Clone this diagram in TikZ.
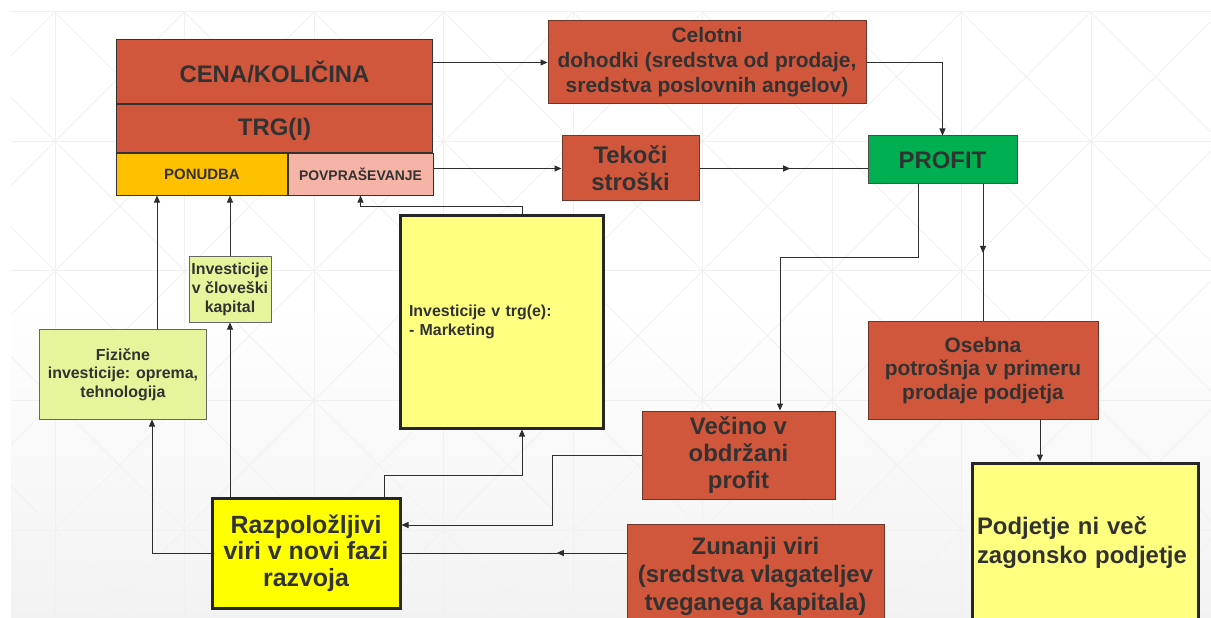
\documentclass[tikz,border=0pt]{standalone}
\usepackage{fontspec}
\setmainfont{Liberation Sans}
\usepackage{tikz}
\usetikzlibrary{arrows.meta,positioning,calc,decorations.markings}
\definecolor{rdfill}{RGB}{208,87,60}
\definecolor{rdline}{RGB}{112,52,40}
\definecolor{txtgray}{RGB}{50,50,50}
\definecolor{lnfarba}{RGB}{45,45,45}
\definecolor{profgreen}{RGB}{0,176,80}
\definecolor{ponorange}{RGB}{255,192,0}
\definecolor{povpink}{RGB}{245,180,165}
\definecolor{ylgreen}{RGB}{230,245,155}
\definecolor{ylpale}{RGB}{255,255,128}
\definecolor{ylstrong}{RGB}{255,255,0}
\tikzset{
  redbox/.style={
    rectangle, draw=rdline, fill=rdfill, line width=1bp, text=txtgray,
    align=center, inner sep=2bp,
    font=\bfseries\fontsize{24}{27}\selectfont
  },
  headbox/.style={
    rectangle, draw=txtgray, fill=rdfill, line width=1bp, text=txtgray,
    align=center, inner sep=2bp, minimum width=315bp,
    font=\bfseries\fontsize{24}{27}\selectfont
  },
  marketbox/.style={
    rectangle, draw=txtgray, line width=1bp, text=txtgray,
    align=center, inner sep=2bp, minimum height=41bp
  },
  invbox/.style={
    rectangle, draw=black!60, fill=ylgreen, line width=1bp, text=txtgray,
    align=center, inner sep=2bp,
    font=\bfseries\fontsize{16}{18.7}\selectfont
  },
  bigyellow/.style={
    rectangle, draw=black!85, fill=ylpale, line width=3bp, text=txtgray,
    align=left, inner ysep=2bp
  },
  flowline/.style={->, >={Triangle[length=7bp,width=6bp]}, line width=1bp, lnfarba},
  flowplain/.style={line width=1bp, lnfarba},
  midarrow/.style={postaction={decorate}, decoration={markings,
    mark=at position #1 with {\arrow{Triangle[length=7bp,width=6bp]}}}},
  midarrow/.default=0.5,
  gridline/.style={black!6, line width=1bp},
  diagline/.style={black!5, line width=0.8bp}
}

\begin{document}
\begin{tikzpicture}[x=1bp, y=-1bp]
  \useasboundingbox (0,0) rectangle (1211,618);
  \fill[white] (0,0) rectangle (1211,618);
  \shade[top color=white, bottom color=black!5] (11,300) rectangle (1211,618);
  \begin{scope}
    \clip (11,12) rectangle (1211,618);
    \foreach \gx in {55,184.5,...,1211} \draw[gridline] (\gx,12) -- (\gx,618);
    \foreach \gy in {12,141.5,...,618} \draw[gridline] (11,\gy) -- (1211,\gy);
    \foreach \dc in {-604.5,-475,...,1211} \draw[diagline] (\dc,0) -- ++(700,700);
    \foreach \dd in {67,196.5,...,1900} \draw[diagline] (\dd,0) -- ++(-700,700);
  \end{scope}

  \node[headbox, minimum height=64bp] (cena) at (274.5,72) {CENA/KOLIČINA};
  \node[headbox, minimum height=48bp, below=0pt of cena] (trg) {TRG(I)};
  \node[marketbox, fill=ponorange, minimum width=170bp, anchor=north west,
        font=\bfseries\fontsize{15}{17}\selectfont] (ponudba) at (trg.south west) {PONUDBA};
  \node[marketbox, fill=povpink, minimum width=145bp, anchor=north west,
        font=\bfseries\fontsize{14}{16}\selectfont] (povpr) at (ponudba.north east) {POVPRAŠEVANJE};

  \node[redbox, minimum width=318bp, minimum height=83bp,
        font=\bfseries\fontsize{21}{25}\selectfont] (celotni) at (707,62.5)
    {Celotni\\dohodki (sredstva od prodaje,\\sredstva poslovnih angelov)};
  \node[redbox, minimum width=137bp, minimum height=65bp] (tekoci) at (630.5,168.5)
    {Tekoči\\stroški};
  \node[redbox, fill=profgreen, draw=black!70, minimum width=149bp, minimum height=48bp]
    (profit) at (942.5,160) {PROFIT};

  \node[invbox, minimum width=82bp, minimum height=65bp] (humcap) at (230,289.5)
    {Investicije\\v človeški\\kapital};
  \node[invbox, minimum width=166bp, minimum height=89bp] (fiz) at (123,374.5)
    {Fizične\\investicije: oprema,\\tehnologija};
  \node[bigyellow, text width=185bp, inner xsep=9bp, minimum height=212bp,
        font=\bfseries\fontsize{16}{19}\selectfont] (invtrg) at (501.5,322)
    {Investicije v trg(e):\\- Marketing};

  \node[redbox, minimum width=193bp, minimum height=88bp] (vecino) at (738.5,455)
    {Večino v\\obdržani\\profit};
  \node[redbox, minimum width=230bp, minimum height=97bp,
        font=\bfseries\fontsize{21}{23.5}\selectfont] (osebna) at (983,370.5)
    {Osebna\\potrošnja v primeru\\prodaje podjetja};
  \node[bigyellow, text width=216bp, inner xsep=5bp, minimum height=160bp,
        font=\bfseries\fontsize{24}{29}\selectfont] (podjetje) at (1085,543)
    {Podjetje ni več\\zagonsko podjetje};
  \node[redbox, minimum width=257bp, minimum height=104bp,
        font=\bfseries\fontsize{24}{28}\selectfont] (zunanji) at (755.5,576)
    {Zunanji viri\\(sredstva vlagateljev\\tveganega kapitala)};
  \node[bigyellow, fill=ylstrong, align=center, minimum width=188bp, minimum height=110bp,
        font=\bfseries\fontsize{25}{26.5}\selectfont] (razp) at (306,553)
    {Razpoložljivi\\viri v novi fazi\\razvoja};

  \coordinate (osb) at ($(osebna.south)+(57,0)$);
  \coordinate (fiztop) at ($(fiz.north)+(34,0)$);

  \draw[flowline] (cena.east |- celotni.west) -- (celotni.west);
  \draw[flowline] (celotni.east) -| (profit.north);
  \draw[flowline] (povpr.east |- tekoci.west) -- (tekoci.west);
  \draw[flowplain, midarrow=0.54] (tekoci.east) -- (tekoci.east -| profit.west);
  \draw[flowline] ($(profit.south)+(-24.5,0)$) -- ++(0,73) -| ($(vecino.north)+(41.5,0)$);
  \draw[flowplain, midarrow=0.5] (profit.south -| osebna.north) -- (osebna.north);
  \draw[flowline] (osb) -- (osb |- podjetje.north);
  \draw[flowline] (vecino.west) -- ++(-89,0) |- ($(razp.east)+(0,-28)$);
  \draw[flowplain, midarrow=0.31] (zunanji.west |- razp.east) -- (razp.east);
  \draw[flowline] ($(razp.north)+(78,0)$) -- ++(0,-21) -| ($(invtrg.south)+(20.5,0)$);
  \draw[flowline] ($(invtrg.north)+(20.5,0)$) -- ++(0,-8) -| (povpr.south);
  \draw[flowline] (razp.north -| humcap.south) -- (humcap.south);
  \draw[flowline] (humcap.north) -- (humcap.north |- ponudba.south);
  \draw[flowline] (razp.west) -| ($(fiz.south)+(29,0)$);
  \draw[flowline] (fiztop) -- (fiztop |- ponudba.south);
\end{tikzpicture}
\end{document}
